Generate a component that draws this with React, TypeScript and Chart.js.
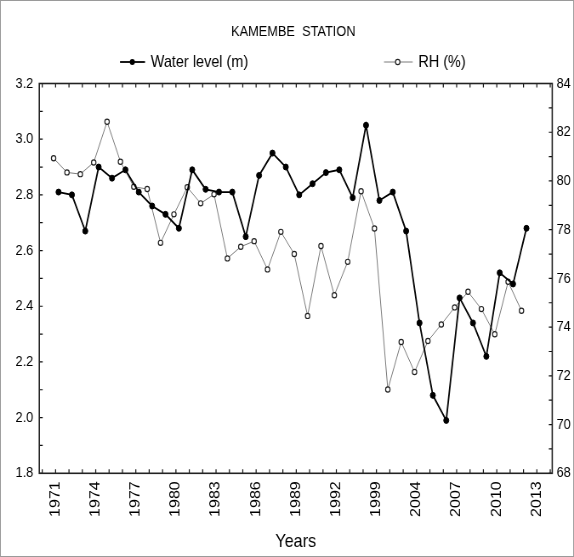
import React, { useEffect, useRef } from 'react';
import { Chart, registerables } from 'chart.js';

Chart.register(...registerables);

// ---- data ----
const tickLabels = ['1971', '1974', '1977', '1980', '1983', '1986', '1989', '1992', '1999', '2004', '2007', '2010', '2013'];

const waterLevel = [
  2.81, 2.80, 2.67, 2.90, 2.86, 2.89, 2.81, 2.76, 2.73, 2.68,
  2.89, 2.82, 2.81, 2.81, 2.65, 2.87, 2.95, 2.90, 2.80, 2.84,
  2.88, 2.89, 2.79, 3.05, 2.78, 2.81, 2.67, 2.34, 2.08, 1.99,
  2.43, 2.34, 2.22, 2.52, 2.48, 2.68,
];

const rhPercent = [
  80.93, 80.35, 80.28, 80.76, 82.43, 80.79, 79.76, 79.67, 77.46, 78.63,
  79.74, 79.08, 79.45, 76.82, 77.30, 77.53, 76.37, 77.91, 77.00, 74.46,
  77.33, 75.31, 76.68, 79.58, 78.05, 71.44, 73.39, 72.16, 73.43, 74.11,
  74.81, 75.45, 74.74, 73.71, 75.86, 74.67,
];

// ---- style ----
const W = 675; // internal width, displayed squeezed to 574 css px
const H = 557;
const K = 574 / W;
const FONT = "'Liberation Sans', Arial, sans-serif";
const WATER_DODGE = 0.22;
const RH_DODGE = -0.15;

const framePlugin = {
  id: 'frameAndLegend',
  afterDraw(chart: any) {
    const ctx = chart.ctx;
    const { left, right, top, bottom } = chart.chartArea;
    const xs = chart.scales.x;
    const yl = chart.scales.y;
    const yr = chart.scales.y1;
    ctx.save();
    // tick marks
    ctx.strokeStyle = '#111';
    ctx.lineWidth = 1.2;
    ctx.beginPath();
    for (let i = -1; i <= 37; i++) {
      const px = xs.getPixelForValue(i);
      if (px < left + 1 || px > right - 1) continue;
      ctx.moveTo(px, bottom);
      ctx.lineTo(px, bottom - 4);
      ctx.moveTo(px, top);
      ctx.lineTo(px, top + 4);
    }
    for (let k = 0; k <= 14; k++) {
      const py = yl.getPixelForValue(1.8 + k * 0.1);
      ctx.moveTo(left, py);
      ctx.lineTo(left + 4, py);
    }
    for (let v = 68; v <= 84; v++) {
      const py = yr.getPixelForValue(v);
      ctx.moveTo(right, py);
      ctx.lineTo(right - 4, py);
    }
    ctx.stroke();
    // plot frame
    ctx.strokeStyle = '#222';
    ctx.lineWidth = 1.6;
    ctx.strokeRect(left, top, right - left, bottom - top);

    // title
    ctx.fillStyle = '#000';
    ctx.textBaseline = 'middle';
    ctx.textAlign = 'center';
    ctx.font = `15px ${FONT}`;
    ctx.fillText('KAMEMBE  STATION', 293.3 / K, 31.5);

    // legend
    const ly = 62;
    ctx.font = `17px ${FONT}`;
    ctx.textAlign = 'left';
    // water level
    ctx.strokeStyle = '#000';
    ctx.lineWidth = 1.8;
    ctx.beginPath();
    ctx.moveTo(120 / K, ly);
    ctx.lineTo(145 / K, ly);
    ctx.stroke();
    ctx.beginPath();
    ctx.arc(132.3 / K, ly, 3, 0, Math.PI * 2);
    ctx.fillStyle = '#000';
    ctx.fill();
    ctx.fillText('Water level (m)', 150.7 / K, ly);
    // RH
    ctx.strokeStyle = '#7a7a7a';
    ctx.lineWidth = 1;
    ctx.beginPath();
    ctx.moveTo(384 / K, ly);
    ctx.lineTo(412.7 / K, ly);
    ctx.stroke();
    ctx.beginPath();
    ctx.arc(397.7 / K, ly, 2.6, 0, Math.PI * 2);
    ctx.fillStyle = '#fff';
    ctx.fill();
    ctx.strokeStyle = '#222';
    ctx.lineWidth = 1.2;
    ctx.stroke();
    ctx.fillStyle = '#000';
    ctx.fillText('RH (%)', 418.3 / K, ly);

    // outer border
    ctx.strokeStyle = '#9a9a9a';
    ctx.lineWidth = 1;
    ctx.strokeRect(0.5, 0.5, W - 1, H - 1);
    ctx.restore();
  },
};

export default function App() {
  const ref = useRef<HTMLCanvasElement | null>(null);

  useEffect(() => {
    document.body.style.margin = '0';
    const canvas = ref.current;
    if (!canvas) return;
    const chart = new Chart(canvas, {
      type: 'line',
      data: {
        datasets: [
          {
            label: 'Water level (m)',
            data: waterLevel.map((v, i) => ({ x: i + WATER_DODGE, y: v })),
            yAxisID: 'y',
            borderColor: '#000',
            backgroundColor: '#000',
            borderWidth: 1.8,
            pointRadius: 3,
            pointBackgroundColor: '#000',
            pointBorderColor: '#000',
            pointBorderWidth: 1,
            tension: 0,
          },
          {
            label: 'RH (%)',
            data: rhPercent.map((v, i) => ({ x: i + RH_DODGE, y: v })),
            yAxisID: 'y1',
            borderColor: '#7a7a7a',
            backgroundColor: '#fff',
            borderWidth: 1,
            pointRadius: 2.6,
            pointBackgroundColor: '#fff',
            pointBorderColor: '#222',
            pointBorderWidth: 1.2,
            tension: 0,
          },
        ],
      },
      options: {
        animation: false,
        responsive: false,
        devicePixelRatio: 1,
        layout: { padding: { top: 83.5, left: 0, right: 0, bottom: 0 } },
        plugins: {
          legend: { display: false },
          title: { display: false },
          tooltip: { enabled: false },
        },
        scales: {
          x: {
            type: 'linear',
            min: -1.22,
            max: 37.15,
            afterBuildTicks: (s: any) => {
              s.ticks = Array.from({ length: 37 }, (_, i) => ({ value: i }));
            },
            afterFit: (s: any) => {
              s.height = 83.7;
            },
            grid: { display: false, drawTicks: false },
            border: { display: false },
            ticks: {
              autoSkip: false,
              minRotation: 90,
              maxRotation: 90,
              padding: 8,
              color: '#000',
              font: { family: FONT, size: 16 },
              callback: (v: any) => (v % 3 === 0 ? tickLabels[v / 3] : ''),
            },
            title: {
              display: true,
              text: 'Years',
              color: '#000',
              font: { family: FONT, size: 19 },
              padding: { top: 0, bottom: 4 },
            },
          },
          y: {
            position: 'left',
            min: 1.8,
            max: 3.2,
            afterFit: (s: any) => {
              s.width = 46.2;
            },
            grid: { display: false, drawTicks: false },
            border: { display: false },
            ticks: {
              stepSize: 0.2,
              padding: 7,
              color: '#000',
              font: { family: FONT, size: 15 },
              callback: (v: any) => Number(v).toFixed(1),
            },
          },
          y1: {
            position: 'right',
            min: 68,
            max: 84,
            afterFit: (s: any) => {
              s.width = 25.6;
            },
            grid: { display: false, drawTicks: false },
            border: { display: false },
            ticks: {
              stepSize: 2,
              padding: 5,
              color: '#000',
              font: { family: FONT, size: 15 },
            },
          },
        },
      },
      plugins: [framePlugin],
    });
    return () => chart.destroy();
  }, []);

  return (
    <canvas
      ref={ref}
      width={W}
      height={H}
      style={{ display: 'block', width: '574px', height: '557px' }}
    />
  );
}
